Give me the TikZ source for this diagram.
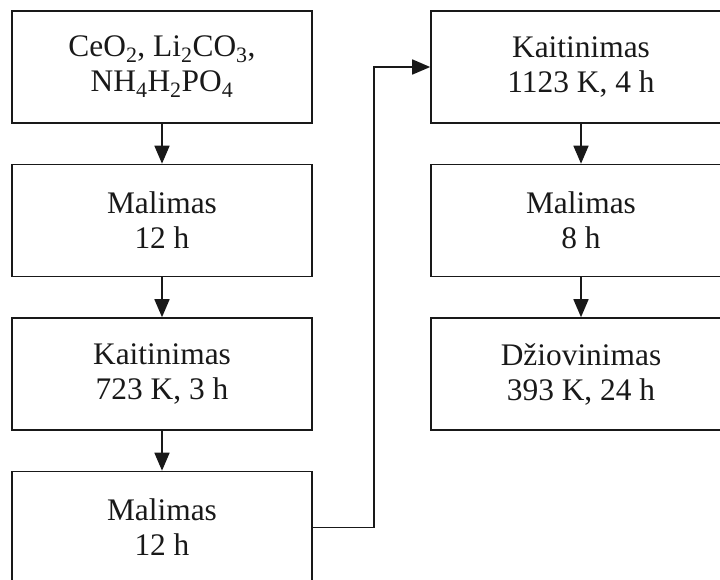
\documentclass[tikz,border=0pt]{standalone}
\usepackage{fontspec}
\setmainfont{Liberation Serif}
\usetikzlibrary{arrows.meta}
\begin{document}
\begin{tikzpicture}[x=1pt,y=-1pt,
  stepbox/.style={draw=black!90, line width=1.6pt, rectangle,
    minimum width=300pt, minimum height=112pt, align=center,
    inner sep=2pt, text=black!90, font=\fontsize{31.4}{35}\selectfont},
  flow/.style={draw=black!90, line width=1.6pt,
    -{Triangle[length=18pt,width=15pt]}}]
\useasboundingbox (0,0) rectangle (720,579);
\clip (0,0) rectangle (720,579);
% left column
\node[stepbox] (l1) at (162,67)
  {CeO\textsubscript{2}, Li\textsubscript{2}CO\textsubscript{3},\\
   NH\textsubscript{4}H\textsubscript{2}PO\textsubscript{4}};
\node[stepbox] (l2) at (162,220.5) {Malimas\\12 h};
\node[stepbox] (l3) at (162,374) {Kaitinimas\\723 K, 3 h};
\node[stepbox] (l4) at (162,527.5) {Malimas\\12 h};
% right column
\node[stepbox] (r1) at (581,67) {Kaitinimas\\1123 K, 4 h};
\node[stepbox] (r2) at (581,220.5) {Malimas\\8 h};
\node[stepbox] (r3) at (581,374) {Džiovinimas\\393 K, 24 h};
% connectors
\draw[flow] (l1) -- (l2);
\draw[flow] (l2) -- (l3);
\draw[flow] (l3) -- (l4);
\draw[flow] (l4.east) -- ++(61,0) |- (r1.west);
\draw[flow] (r1) -- (r2);
\draw[flow] (r2) -- (r3);
\end{tikzpicture}
\end{document}
